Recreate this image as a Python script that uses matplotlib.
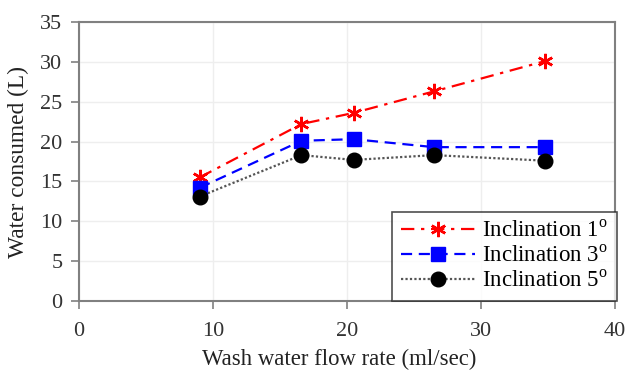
import matplotlib
matplotlib.use("Agg")
import matplotlib.pyplot as plt

plt.rcParams['font.family'] = ['Liberation Serif', 'DejaVu Serif']
plt.rcParams['mathtext.fontset'] = 'custom'
plt.rcParams['mathtext.rm'] = 'Liberation Serif'

flow = [9.0, 16.6, 20.5, 26.5, 34.8]
incl1 = [15.5, 22.2, 23.6, 26.3, 30.1]
incl3 = [14.2, 20.1, 20.3, 19.3, 19.3]
incl5 = [13.1, 18.3, 17.7, 18.3, 17.6]
labels = ["Inclination 1$^{\\rm o}$", "Inclination 3$^{\\rm o}$", "Inclination 5$^{\\rm o}$"]

fig = plt.figure(figsize=(6.31, 3.73), dpi=100)
ax = fig.add_axes([79/631, 1 - 301/373, (615-79)/631, (301-22)/373])

ax.plot(flow, incl1, color='#ff0000', linestyle=(0, (6, 3, 1.5, 3)), linewidth=1.6,
        marker=(6, 2, 0), markersize=11, markeredgewidth=1.8, markeredgecolor='#ff0000', label=labels[0])
ax.plot(flow, incl3, color='#0000ff', linestyle=(0, (5, 3)), linewidth=1.6,
        marker='s', markersize=10.5, label=labels[1])
ax.plot(flow, incl5, color='#555555', linestyle=(0, (1, 1)), linewidth=1.6,
        marker='o', markerfacecolor='black', markeredgecolor='black', markersize=10.5, label=labels[2])

ax.set_xlim(0, 40)
ax.set_ylim(0, 35)
ax.set_xticks([0, 10, 20, 30, 40])
ax.set_yticks(range(0, 36, 5))
ax.grid(True, color='#eeeeee', linewidth=1)
ax.set_axisbelow(True)
for s in ax.spines.values():
    s.set_color('#808080')
    s.set_linewidth(1.5)
ax.tick_params(direction='out', length=6, width=1.2, color='#808080', labelsize=16,
               labelcolor='#333333', pad=6)
ax.tick_params(axis='x', pad=9)
ax.set_xlabel('Wash water flow rate (ml/sec)', fontsize=16.4, color='#222222', labelpad=7)
ax.xaxis.set_label_coords(0.485, -0.17)
ax.set_ylabel('Water consumed (L)', fontsize=16.8, color='#222222', labelpad=8)

leg = ax.legend(loc='lower right', fontsize=16.5, frameon=True, fancybox=False, edgecolor='#222222',
                handlelength=3.2, borderaxespad=0.0, labelspacing=0.15, handletextpad=0.3,
                borderpad=0.4, bbox_to_anchor=(1.003, 0.0))
leg.get_frame().set_linewidth(1.2)

fig.savefig('out.png', dpi=100, facecolor='white')
